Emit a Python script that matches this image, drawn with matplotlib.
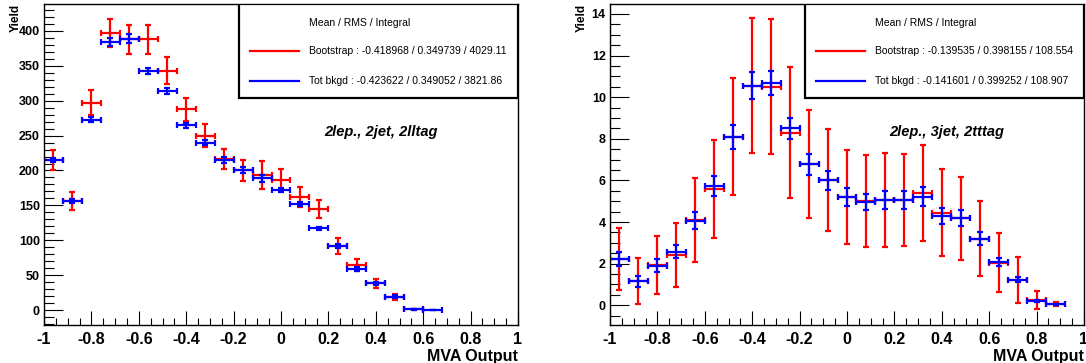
import matplotlib
matplotlib.use("Agg")
import matplotlib.pyplot as plt
import numpy as np
from matplotlib.ticker import MultipleLocator

# bins of width 0.08 from -1 to 1
bin_edges = np.linspace(-1, 1, 26)
bin_centers = 0.5 * (bin_edges[:-1] + bin_edges[1:])
nan = np.nan

# 2lep., 2jet, 2lltag
boot_2j = [215, 156, 297, 397, 388, 388, 343, 288, 250, 217, 200, 193, 187, 162, 145,
           92, 64.5, 38, 19, 1, nan, nan, nan, nan, nan]
boot_2j_err = [14, 12.5, 18, 20.5, 20.5, 20.5, 19.5, 16.5, 16, 14.5, 14.5, 20, 15, 14, 13,
               11.5, 8.5, 7, 4, 1, nan, nan, nan, nan, nan]
bkg_2j = [215, 156, 273, 384, 389, 343, 314, 265, 240, 215, 201, 189, 172, 152, 117,
          92, 59, 38, 19, 1, 0.4, nan, nan, nan, nan]
bkg_2j_err = [3.5, 3, 4, 6, 6, 4, 4, 3.5, 3.5, 4, 4, 5, 3.5, 3.5, 2.5,
              3, 2.5, 2.5, 2, 0.5, 0.3, nan, nan, nan, nan]

# 2lep., 3jet, 2tttag
boot_3j = [2.22, 1.16, 1.94, 2.42, 4.1, 5.59, 8.1, 10.55, 10.5, 8.3, 6.8, 6.0, 5.19, 5.0,
           5.06, 5.06, 5.38, 4.45, 4.18, 3.2, 2.05, 1.22, 0.25, 0.05, nan]
boot_3j_err = [1.5, 1.1, 1.4, 1.55, 2.0, 2.35, 2.8, 3.25, 3.25, 3.15, 2.6, 2.45, 2.25, 2.2,
               2.25, 2.2, 2.3, 2.1, 2.0, 1.8, 1.4, 1.1, 0.45, 0.1, nan]
bkg_3j = [2.23, 1.15, 1.9, 2.58, 4.07, 5.73, 8.1, 10.55, 10.7, 8.5, 6.78, 6.0, 5.22, 4.97,
          5.06, 5.06, 5.22, 4.29, 4.18, 3.2, 2.08, 1.22, 0.22, 0.05, nan]
bkg_3j_err = [0.32, 0.25, 0.3, 0.33, 0.42, 0.5, 0.58, 0.65, 0.58, 0.5, 0.5, 0.45, 0.43, 0.4,
              0.43, 0.43, 0.45, 0.38, 0.38, 0.3, 0.2, 0.12, 0.05, 0.03, nan]

panels = [
    dict(boot=boot_2j, boot_err=boot_2j_err, bkg=bkg_2j, bkg_err=bkg_2j_err,
         ylim=(-21.5, 438.7), major=50, minor=10, tag="2lep., 2jet, 2lltag",
         leg=["Bootstrap : -0.418968 / 0.349739 / 4029.11",
              "Tot bkgd : -0.423622 / 0.349052 / 3821.86"]),
    dict(boot=boot_3j, boot_err=boot_3j_err, bkg=bkg_3j, bkg_err=bkg_3j_err,
         ylim=(-0.95, 14.48), major=2, minor=0.5, tag="2lep., 3jet, 2tttag",
         leg=["Bootstrap : -0.139535 / 0.398155 / 108.554",
              "Tot bkgd : -0.141601 / 0.399252 / 108.907"]),
]

plt.rcParams['font.family'] = ['Liberation Sans', 'DejaVu Sans']

W, H = 1086, 363
fig = plt.figure(figsize=(W / 100, H / 100), dpi=100)

lefts = [44, 610]
for left, p in zip(lefts, panels):
    ax = fig.add_axes([left / W, (H - 325) / H, 474 / W, 321 / H])
    half = 0.04
    ax.errorbar(bin_centers, p["boot"], xerr=half, yerr=p["boot_err"], fmt='none',
                ecolor='#ff0000', elinewidth=1.6, capsize=2.5, capthick=1.6)
    ax.errorbar(bin_centers, p["bkg"], xerr=half, yerr=p["bkg_err"], fmt='none',
                ecolor='#0000ff', elinewidth=1.6, capsize=2.5, capthick=1.6)
    ax.set_xlim(-1, 1)
    ax.set_ylim(*p["ylim"])
    ax.xaxis.set_major_locator(MultipleLocator(0.2))
    ax.xaxis.set_minor_locator(MultipleLocator(0.05))
    ax.yaxis.set_major_locator(MultipleLocator(p["major"]))
    ax.yaxis.set_minor_locator(MultipleLocator(p["minor"]))
    ax.xaxis.set_major_formatter(plt.FuncFormatter(lambda v, _: f"{round(v, 6):g}"))
    ax.yaxis.set_major_formatter(plt.FuncFormatter(lambda v, _: f"{round(v, 6):g}"))
    ax.tick_params(axis='both', which='both', direction='in', top=False, right=False,
                   colors='black', width=0.8)
    ax.tick_params(axis='x', which='major', length=10, pad=5, labelsize=11.5)
    ax.tick_params(axis='x', which='minor', length=5)
    ax.tick_params(axis='y', which='major', length=14, pad=3, labelsize=9)
    ax.tick_params(axis='y', which='minor', length=7)
    for lab in ax.get_xticklabels() + ax.get_yticklabels():
        lab.set_fontweight('bold')
    for s in ax.spines.values():
        s.set_linewidth(1.0)
        s.set_color('black')

    ax.set_xlabel("MVA Output", fontsize=11.5, fontweight='bold', loc='right', labelpad=0)
    ax.xaxis.set_label_coords(1.0, -0.075)
    ax.xaxis.label.set_verticalalignment('top')
    ax.set_ylabel("Yield", fontsize=8.5, fontweight='bold', loc='top')
    ax.yaxis.set_label_coords(-0.047, 1.0)

    ax.text(0.71, 0.6, p["tag"], transform=ax.transAxes, ha='center', va='center',
            fontsize=10.5, fontweight='bold', fontstyle='italic')

    # legend box drawn by hand like ROOT TLegend
    lx0, lx1, ly0, ly1 = (239 - 44) / 474, 1.0, 1 - (98 - 4) / 321, 1.0
    box = plt.Rectangle((lx0, ly0), lx1 - lx0, ly1 - ly0, transform=ax.transAxes,
                        facecolor='white', edgecolor='black', linewidth=1.6, zorder=5)
    ax.add_patch(box)
    tx = (309 - 44) / 474
    l0, l1 = (250 - 44) / 474, (299 - 44) / 474
    ax.text(tx, 1 - (23 - 4) / 321, "Mean / RMS / Integral", transform=ax.transAxes,
            fontsize=7.5, va='center', zorder=6)
    for yy, col, txt in [(51, '#ff0000', p["leg"][0]), (81, '#0000ff', p["leg"][1])]:
        yf = 1 - (yy - 4) / 321
        ax.plot([l0, l1], [yf, yf], color=col, lw=1.6, transform=ax.transAxes,
                zorder=6, clip_on=False)
        ax.text(tx, yf, txt, transform=ax.transAxes, fontsize=7.5, va='center', zorder=6)

fig.savefig("out.png", dpi=100)
